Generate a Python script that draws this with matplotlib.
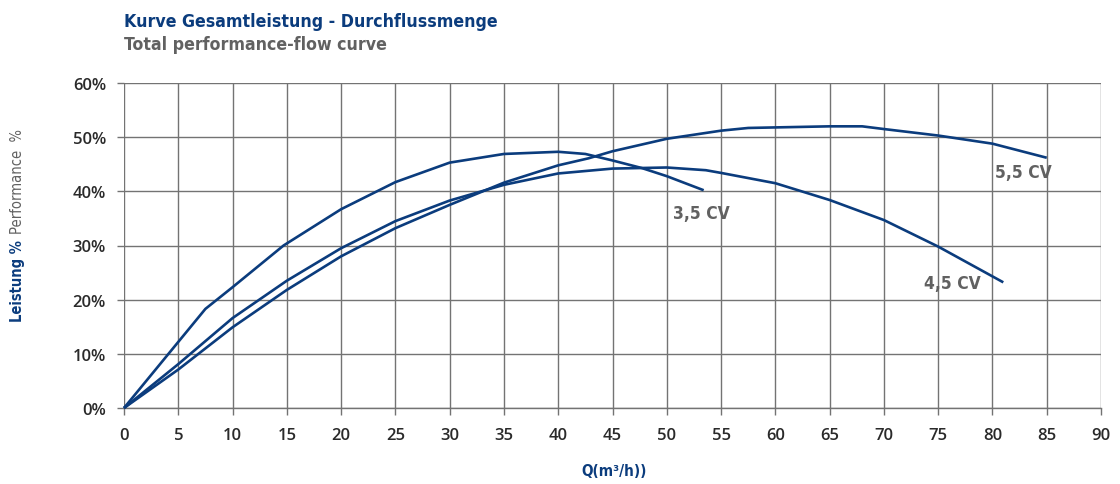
import matplotlib
matplotlib.use("Agg")
import matplotlib.pyplot as plt
from matplotlib import font_manager

# ---- data ----
x_35 = [0, 7.5, 10, 14.7, 20, 25, 30, 35, 40, 42.5, 45, 47.7, 50, 53.4]
y_35 = [0, 18.3, 22.3, 30.0, 36.7, 41.7, 45.3, 46.9, 47.3, 46.9, 45.7, 44.3, 42.8, 40.2]

x_45 = [0, 5, 10, 15, 20, 25, 30, 35, 40, 45, 50, 53.6, 55, 60, 65, 70, 75, 80, 81.0]
y_45 = [0, 8.1, 16.6, 23.5, 29.5, 34.5, 38.3, 41.2, 43.3, 44.2, 44.4, 43.9, 43.4, 41.5, 38.4, 34.7, 29.8, 24.3, 23.2]

x_55 = [0, 5, 10, 15, 20, 25, 30, 35, 40, 42.8, 45, 50, 55, 57.5, 60, 65, 68, 70, 75, 80, 85]
y_55 = [0, 7.1, 14.9, 21.8, 28.0, 33.2, 37.5, 41.6, 44.8, 46.1, 47.4, 49.7, 51.2, 51.7, 51.8, 52.0, 52.0, 51.5, 50.3, 48.8, 46.2]

curve_labels = ["3,5 CV", "4,5 CV", "5,5 CV"]
label_pos = [(50.6, 36.0), (73.7, 23.1), (80.2, 43.5)]

x_ticks = list(range(0, 95, 5))
y_ticks = [0, 10, 20, 30, 40, 50, 60]
y_ticklabels = [f"{v}%" for v in y_ticks]

title_de = "Kurve Gesamtleistung - Durchflussmenge"
title_en = "Total performance-flow curve"
xlabel = "Q(m³/h))"

BLUE = "#0b3c7d"
GRAY = "#616161"

def cond(size, weight="bold"):
    return font_manager.FontProperties(family="DejaVu Sans", stretch="condensed",
                                       weight=weight, size=size)

fig = plt.figure(figsize=(11.2, 4.85), dpi=100)
ax = fig.add_axes([124/1120, 76/485, (1101-124)/1120, (409-84)/485])

for xs, ys in [(x_35, y_35), (x_45, y_45), (x_55, y_55)]:
    ax.plot(xs, ys, color=BLUE, lw=1.9, solid_capstyle="butt", solid_joinstyle="round",
            zorder=3, clip_on=False)

for lab, (lx, ly) in zip(curve_labels, label_pos):
    ax.text(lx, ly, lab, color=GRAY, fontproperties=cond(12.5),
            ha="left", va="center", zorder=4)

ax.set_xlim(0, 90)
ax.set_ylim(0, 60)
ax.set_xticks(x_ticks)
ax.set_yticks(y_ticks)
ax.set_yticklabels(y_ticklabels)
ax.grid(True, color="#737373", lw=1.0)
ax.set_axisbelow(True)
for s in ["top", "right", "left"]:
    ax.spines[s].set_visible(False)
ax.spines["bottom"].set_color("#737373")
ax.spines["bottom"].set_linewidth(1.0)
ax.tick_params(axis="both", direction="out", length=5, width=1.0, color="#737373",
               labelsize=12, labelcolor="#2a2a2a")
ax.tick_params(axis="y", pad=8)
ax.tick_params(axis="x", pad=9)
for t in ax.get_xticklabels() + ax.get_yticklabels():
    t.set_family(["Open Sans", "DejaVu Sans"])
    t.set_fontweight("semibold")

fig.text(124/1120, 1-22/485, title_de, color=BLUE, fontproperties=cond(12.7),
         ha="left", va="center")
fig.text(124/1120, 1-45/485, title_en, color=GRAY, fontproperties=cond(12.7),
         ha="left", va="center")
fig.text(614/1120, 1-472/485, xlabel, color=BLUE, fontproperties=cond(11),
         ha="center", va="center")
fig.text(18/1120, 1-322/485, "Leistung %", color=BLUE, fontproperties=cond(10.5),
         rotation=90, ha="center", va="bottom")
fig.text(18/1120, 1-234/485, "Performance  %", color=GRAY, fontproperties=cond(10.5, "normal"),
         rotation=90, ha="center", va="bottom")

fig.savefig("out.png", dpi=100)
